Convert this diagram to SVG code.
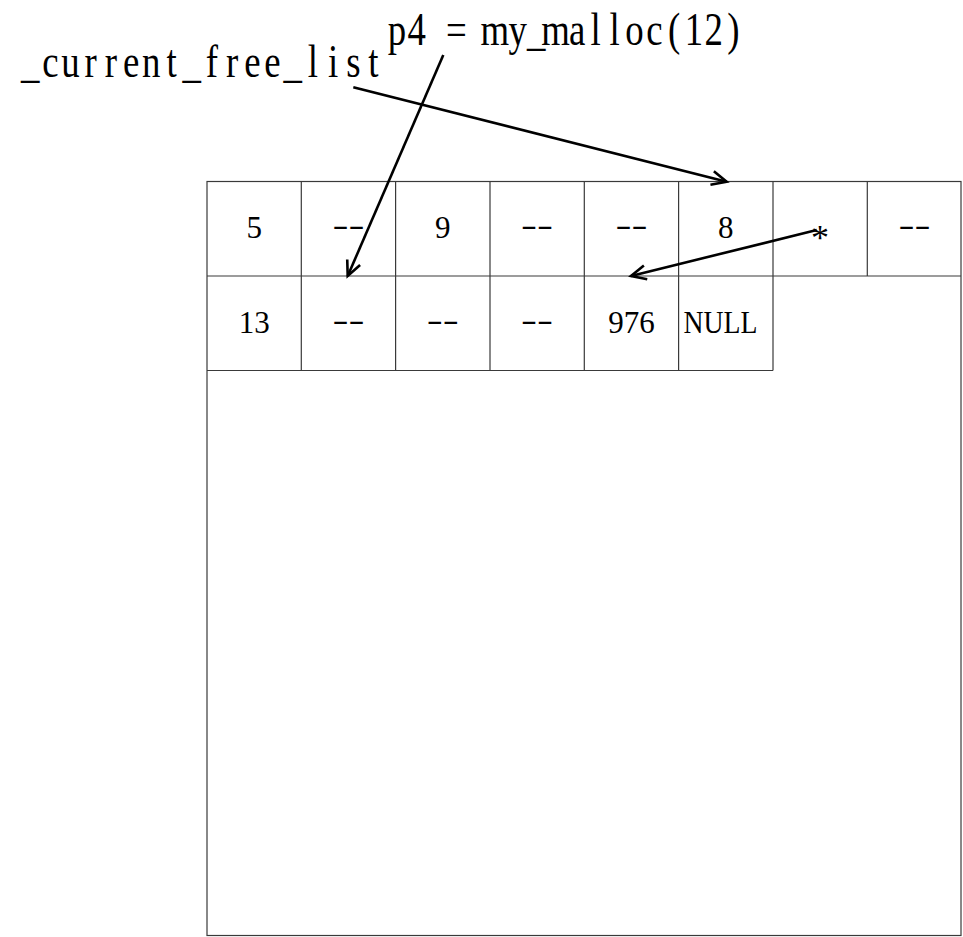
<svg xmlns="http://www.w3.org/2000/svg" width="963" height="937" viewBox="0 0 963 937">
<style>
.grid{fill:none;stroke:#3a3a3a;stroke-width:1.2}
.cell{font-family:"Liberation Serif","DejaVu Serif",serif;font-size:31px;fill:#000;text-anchor:middle}
.lbl{font-family:"Liberation Serif","DejaVu Serif",serif;font-size:46px;fill:#000}
.conn{fill:none;stroke:#000;stroke-width:2.6}
</style>
<defs>
<marker id="ah" markerUnits="userSpaceOnUse" markerWidth="40" markerHeight="40" refX="0" refY="0" viewBox="-20 -20 40 40" orient="auto">
<path d="M-15,-7 L0,0 L-15,7" fill="none" stroke="#000" stroke-width="2.6"/>
</marker>
</defs>
<rect width="963" height="937" fill="#fff"/>
<g id="memory">
<rect class="grid" x="207" y="181.5" width="754" height="754"/>
<path class="grid" d="M207,276 H961 M207,370.5 H773 M301.3,181.5 V370.5 M395.6,181.5 V370.5 M490,181.5 V370.5 M584.3,181.5 V370.5 M678.6,181.5 V370.5 M773,181.5 V370.5 M867.3,181.5 V276"/>
</g>
<g id="row1">
<text class="cell" x="254.2" y="238">5</text>
<text class="cell" x="348.5" y="235" textLength="32" lengthAdjust="spacingAndGlyphs">--</text>
<text class="cell" x="442.8" y="238">9</text>
<text class="cell" x="537.1" y="235" textLength="32" lengthAdjust="spacingAndGlyphs">--</text>
<text class="cell" x="631.5" y="235" textLength="32" lengthAdjust="spacingAndGlyphs">--</text>
<text class="cell" x="725.8" y="238">8</text>
<text class="cell" x="820.1" y="250" style="font-size:36px">*</text>
<text class="cell" x="914.4" y="235" textLength="32" lengthAdjust="spacingAndGlyphs">--</text>
</g>
<g id="row2">
<text class="cell" x="254.2" y="333">13</text>
<text class="cell" x="348.5" y="330" textLength="32" lengthAdjust="spacingAndGlyphs">--</text>
<text class="cell" x="442.8" y="330" textLength="32" lengthAdjust="spacingAndGlyphs">--</text>
<text class="cell" x="537.1" y="330" textLength="32" lengthAdjust="spacingAndGlyphs">--</text>
<text class="cell" x="631.5" y="333">976</text>
<text class="cell" x="720.5" y="333" textLength="74" lengthAdjust="spacingAndGlyphs">NULL</text>
</g>
<g id="label-free-list">
<text class="lbl" transform="scale(0.8 1)" y="77" x="26.13 52.68 76.63 105.73 130.98 153.68 177.63 207.98 228.13 257.23 282.48 305.18 330.43 354.38 384.73 409.98 432.68 460.48">_current_free_list</text>
</g>
<g id="label-malloc">
<text class="lbl" transform="scale(0.8 1)" y="45" x="484.63 509.38 539.88 557.43 589.38 600.5 635.6 658.9 676.7 711.2 738.2 761.98 781.63 807.68 834.98 855.88 880.63 909.23">p4 = my_malloc(12)</text>
</g>
<g id="connectors">
<line class="conn" x1="353.3" y1="87.3" x2="726.7" y2="181.7" marker-end="url(#ah)"/>
<line class="conn" x1="443.3" y1="55" x2="347.7" y2="276" marker-end="url(#ah)"/>
<line class="conn" x1="816.7" y1="230" x2="631" y2="276" marker-end="url(#ah)"/>
</g>
</svg>
